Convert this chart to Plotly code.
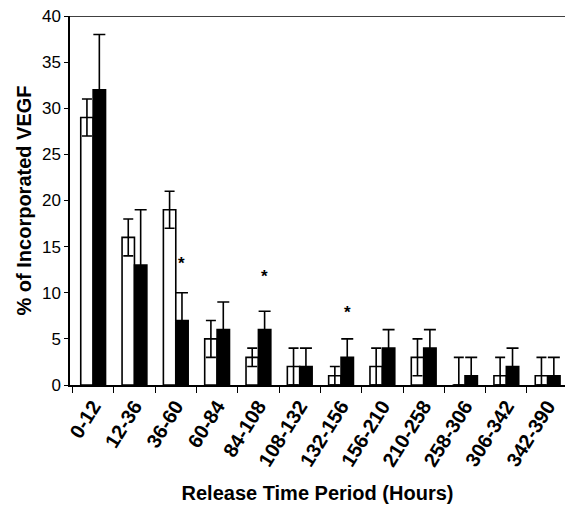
import plotly.graph_objects as go

categories = ["0-12", "12-36", "36-60", "60-84", "84-108", "108-132", "132-156",
              "156-210", "210-258", "258-306", "306-342", "342-390"]
white_vals = [29, 16, 19, 5, 3, 2, 1, 2, 3, 0, 1, 1]
white_err = [2, 2, 2, 2, 1, 2, 1, 2, 2, 3, 2, 2]
black_vals = [32, 13, 7, 6, 6, 2, 3, 4, 4, 1, 2, 1]
black_err = [6, 6, 3, 3, 2, 2, 2, 2, 2, 2, 2, 2]
star_cats = ["36-60", "84-108", "132-156"]
star_y = [13.2, 11.8, 7.9]

FONT = "Liberation Sans, Arial, sans-serif"

fig = go.Figure()
fig.add_trace(go.Bar(
    x=categories, y=white_vals,
    marker=dict(color="white", line=dict(color="black", width=1.6)),
    error_y=dict(type="data", array=white_err,
                 arrayminus=[min(e, v) for e, v in zip(white_err, white_vals)],
                 color="black", thickness=1.6, width=5),
    showlegend=False,
))
fig.add_trace(go.Bar(
    x=categories, y=black_vals,
    marker=dict(color="black", line=dict(color="black", width=1.6)),
    error_y=dict(type="data", array=black_err,
                 arrayminus=[min(e, v) for e, v in zip(black_err, black_vals)],
                 color="black", thickness=1.6, width=6),
    showlegend=False,
))

for c, yv in zip(star_cats, star_y):
    fig.add_annotation(x=c, y=yv, xref="x", yref="y", text="<b>*</b>", showarrow=False,
                       xshift=6, font=dict(family=FONT, size=17, color="black"))

fig.add_shape(type="line", xref="paper", yref="y", x0=0, x1=1, y0=40, y1=40,
              line=dict(color="black", width=1.5))

fig.update_layout(
    width=565, height=512,
    margin=dict(l=70, r=0, t=16, b=127),
    plot_bgcolor="white", paper_bgcolor="white",
    barmode="group", bargap=0.4, bargroupgap=0,
    font=dict(family=FONT, color="black"),
)
fig.update_xaxes(
    range=[-0.56, 11.42], tickangle=-58,
    showline=True, linecolor="black", linewidth=1.5,
    ticks="outside", ticklen=6, tickcolor="black", tickson="boundaries",
    tickfont=dict(family=FONT, size=20, color="black", weight="bold"),
    title=dict(text="<b>Release Time Period (Hours)</b>",
               font=dict(family=FONT, size=20, color="black"), standoff=17),
    showgrid=False,
)
fig.update_yaxes(
    range=[0, 40], dtick=5,
    showline=True, linecolor="black", linewidth=1.5,
    ticks="outside", ticklen=4, tickcolor="black",
    tickfont=dict(family=FONT, size=17, color="black"),
    title=dict(text="<b>% of Incorporated VEGF</b>",
               font=dict(family=FONT, size=20, color="black"), standoff=5),
    showgrid=False, zeroline=False,
)

fig.write_html("out.html")
